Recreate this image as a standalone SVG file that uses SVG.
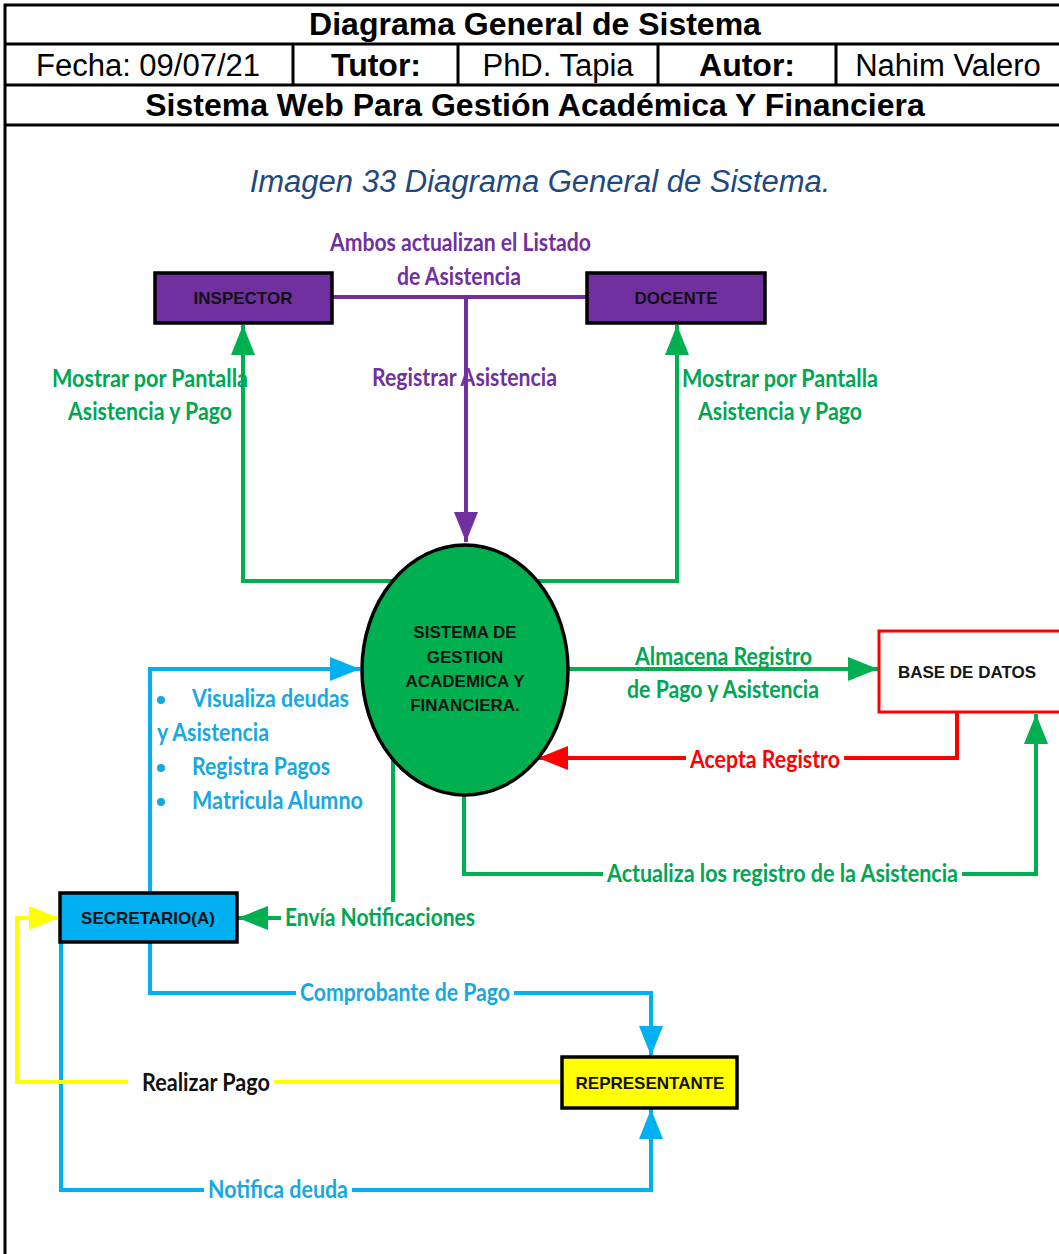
<svg xmlns="http://www.w3.org/2000/svg" width="1059" height="1254" viewBox="0 0 1059 1254">
<defs>
<style>
.tbl{stroke:#000;stroke-width:3;fill:none}
.th{font-family:"Liberation Sans",Arial,sans-serif;font-size:32px;font-weight:bold;fill:#000;text-anchor:middle}
.td{font-family:"Liberation Sans",Arial,sans-serif;font-size:31px;fill:#000;text-anchor:middle}
.cap{font-family:"Liberation Sans",Arial,sans-serif;font-size:31px;font-style:italic;fill:#1F497D;text-anchor:middle}
.box{stroke:#000;stroke-width:3.5}
.bt{font-family:"Liberation Sans",Arial,sans-serif;font-size:17px;font-weight:bold;fill:#111;text-anchor:middle}
.et{font-family:"Liberation Sans",Arial,sans-serif;font-size:17px;font-weight:bold;fill:#151515;text-anchor:middle}
.lb{font-family:Lato,"Open Sans",sans-serif;font-size:25px;font-weight:bold}
.c{fill:none;stroke-width:4}
.pu{stroke:#7030A0}.gr{stroke:#00B050}.bl{stroke:#00B0F0}.rd{stroke:#FF0000}.ye{stroke:#FFFF00}
.fpu{fill:#7030A0}.fgr{fill:#00A651}.fbl{fill:#18A8E0}.frd{fill:#FF0000}.fbk{fill:#111}
</style>
<marker id="aPu" viewBox="0 0 30 24" refX="30" refY="12" markerWidth="30" markerHeight="24" markerUnits="userSpaceOnUse" orient="auto"><path d="M0 0L30 12L0 24z" fill="#7030A0"/></marker>
<marker id="aGr" viewBox="0 0 30 24" refX="30" refY="12" markerWidth="30" markerHeight="24" markerUnits="userSpaceOnUse" orient="auto"><path d="M0 0L30 12L0 24z" fill="#00B050"/></marker>
<marker id="aBl" viewBox="0 0 30 24" refX="30" refY="12" markerWidth="30" markerHeight="24" markerUnits="userSpaceOnUse" orient="auto"><path d="M0 0L30 12L0 24z" fill="#00B0F0"/></marker>
<marker id="aRd" viewBox="0 0 30 24" refX="30" refY="12" markerWidth="30" markerHeight="24" markerUnits="userSpaceOnUse" orient="auto"><path d="M0 0L30 12L0 24z" fill="#FF0000"/></marker>
<marker id="aYe" viewBox="0 0 30 24" refX="30" refY="12" markerWidth="30" markerHeight="24" markerUnits="userSpaceOnUse" orient="auto"><path d="M0 0L30 12L0 24z" fill="#FFFF00"/></marker>
</defs>
<rect width="1059" height="1254" fill="#fff"/>

<g id="header">
<path class="tbl" d="M5 5H1059M5 44H1059M5 85H1059M5 125H1059M5 3.5V1254M293 44V85M458 44V85M658 44V85M836 44V85"/>
<text class="th" x="535" y="35">Diagrama General de Sistema</text>
<text class="td" x="148" y="76">Fecha: 09/07/21</text>
<text class="th" x="376" y="76">Tutor:</text>
<text class="td" x="558" y="76">PhD. Tapia</text>
<text class="th" x="747" y="76">Autor:</text>
<text class="td" x="948" y="76">Nahim Valero</text>
<text class="th" x="535" y="116">Sistema Web Para Gestión Académica Y Financiera</text>
<text class="cap" x="540" y="192">Imagen 33 Diagrama General de Sistema.</text>
</g>

<g id="connectors">
<path class="c pu" d="M332 297H587"/>
<path class="c pu" d="M466 297V542" marker-end="url(#aPu)"/>
<path class="c gr" d="M400 581H243V325" marker-end="url(#aGr)"/>
<path class="c gr" d="M530 581H677V325" marker-end="url(#aGr)"/>
<path class="c bl" d="M150 893V669H360" marker-end="url(#aBl)"/>
<path class="c gr" d="M566 669H878" marker-end="url(#aGr)"/>
<path class="c rd" d="M957 712V758H538" marker-end="url(#aRd)"/>
<path class="c gr" d="M464 790V874H1036V714" marker-end="url(#aGr)"/>
<path class="c gr" d="M393 760V918H238" marker-end="url(#aGr)"/>
<path class="c bl" d="M150 942V993H651V1056" marker-end="url(#aBl)"/>
<path class="c bl" d="M61 942V1190H651V1109" marker-end="url(#aBl)"/>
<path class="c ye" d="M562 1082H17V918H59" marker-end="url(#aYe)"/>
</g>

<g id="labels">
<text class="lb fpu" x="330" y="251" textLength="261" lengthAdjust="spacingAndGlyphs">Ambos actualizan el Listado</text>
<text class="lb fpu" x="397" y="285" textLength="124" lengthAdjust="spacingAndGlyphs">de Asistencia</text>
<text class="lb fpu" x="372" y="386" textLength="185" lengthAdjust="spacingAndGlyphs">Registrar Asistencia</text>
<text class="lb fgr" x="52" y="387" textLength="196" lengthAdjust="spacingAndGlyphs">Mostrar por Pantalla</text>
<text class="lb fgr" x="68" y="420" textLength="164" lengthAdjust="spacingAndGlyphs">Asistencia y Pago</text>
<text class="lb fgr" x="682" y="387" textLength="196" lengthAdjust="spacingAndGlyphs">Mostrar por Pantalla</text>
<text class="lb fgr" x="698" y="420" textLength="164" lengthAdjust="spacingAndGlyphs">Asistencia y Pago</text>
<text class="lb fgr" x="635" y="665" textLength="177" lengthAdjust="spacingAndGlyphs">Almacena Registro</text>
<text class="lb fgr" x="627" y="698" textLength="192" lengthAdjust="spacingAndGlyphs">de Pago y Asistencia</text>
<rect x="686" y="744" width="158" height="28" fill="#fff"/>
<text class="lb frd" x="690" y="768" textLength="150" lengthAdjust="spacingAndGlyphs">Acepta Registro</text>
<circle cx="161" cy="700" r="4" class="fbl"/>
<text class="lb fbl" x="192" y="707" textLength="157" lengthAdjust="spacingAndGlyphs">Visualiza deudas</text>
<text class="lb fbl" x="157" y="741" textLength="112" lengthAdjust="spacingAndGlyphs">y Asistencia</text>
<circle cx="161" cy="768" r="4" class="fbl"/>
<text class="lb fbl" x="192" y="775" textLength="138" lengthAdjust="spacingAndGlyphs">Registra Pagos</text>
<circle cx="161" cy="802" r="4" class="fbl"/>
<text class="lb fbl" x="192" y="809" textLength="171" lengthAdjust="spacingAndGlyphs">Matricula Alumno</text>
<rect x="603" y="858" width="359" height="28" fill="#fff"/>
<text class="lb fgr" x="607" y="882" textLength="351" lengthAdjust="spacingAndGlyphs">Actualiza los registro de la Asistencia</text>
<rect x="281" y="902" width="198" height="30" fill="#fff"/>
<text class="lb fgr" x="285" y="926" textLength="190" lengthAdjust="spacingAndGlyphs">Envía Notificaciones</text>
<rect x="296" y="977" width="218" height="30" fill="#fff"/>
<text class="lb fbl" x="300" y="1001" textLength="210" lengthAdjust="spacingAndGlyphs">Comprobante de Pago</text>
<rect x="128" y="1067" width="146" height="30" fill="#fff"/>
<text class="lb fbk" x="142" y="1091" textLength="128" lengthAdjust="spacingAndGlyphs">Realizar Pago</text>
<rect x="204" y="1174" width="148" height="30" fill="#fff"/>
<text class="lb fbl" x="208" y="1198" textLength="140" lengthAdjust="spacingAndGlyphs">Notifica deuda</text>
</g>

<g id="inspector">
<rect class="box" x="155" y="273" width="177" height="50" fill="#7030A0"/>
<text class="bt" x="243" y="304">INSPECTOR</text>
</g>
<g id="docente">
<rect class="box" x="587" y="273" width="178" height="50" fill="#7030A0"/>
<text class="bt" x="676" y="304">DOCENTE</text>
</g>
<g id="sistema">
<ellipse cx="465" cy="670" rx="103" ry="125" fill="#00B050" stroke="#000" stroke-width="3.5"/>
<text class="et" x="465" y="638">SISTEMA DE</text>
<text class="et" x="465" y="663">GESTION</text>
<text class="et" x="465" y="687">ACADEMICA Y</text>
<text class="et" x="465" y="711">FINANCIERA.</text>
</g>
<g id="basedatos">
<rect x="879" y="631" width="200" height="81" fill="#fff" stroke="#FF0000" stroke-width="3"/>
<text class="et" x="967" y="678" style="font-size:17px">BASE DE DATOS</text>
</g>
<g id="secretario">
<rect class="box" x="60" y="893" width="177" height="49" fill="#00B0F0"/>
<text class="bt" x="148" y="924">SECRETARIO(A)</text>
</g>
<g id="representante">
<rect class="box" x="562" y="1057" width="175" height="51" fill="#FFFF00"/>
<text class="bt" x="650" y="1089">REPRESENTANTE</text>
</g>
</svg>
